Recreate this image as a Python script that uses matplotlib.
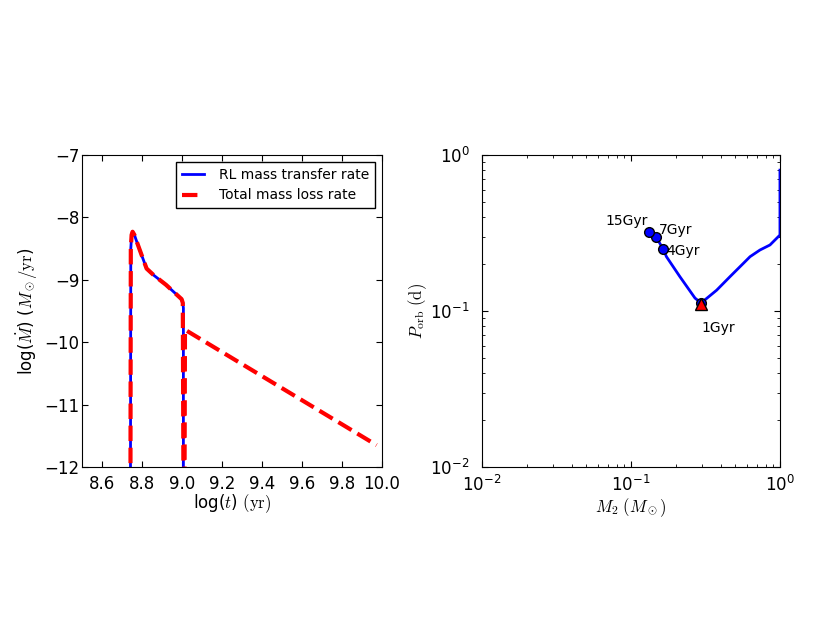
import numpy as np
import matplotlib
matplotlib.use("Agg")
import matplotlib.pyplot as plt

plt.rcParams['mathtext.fontset'] = 'cm'
plt.rcParams['font.family'] = ['DejaVu Sans']
plt.rcParams['xtick.direction'] = 'in'
plt.rcParams['ytick.direction'] = 'in'
plt.rcParams['xtick.top'] = True
plt.rcParams['ytick.right'] = True
plt.rcParams['xtick.major.size'] = 4
plt.rcParams['ytick.major.size'] = 4
plt.rcParams['xtick.minor.size'] = 2
plt.rcParams['ytick.minor.size'] = 2
plt.rcParams['xtick.major.pad'] = 6
plt.rcParams['ytick.major.pad'] = 6

# left panel: mass transfer / loss rate vs log(t)
t_rl = [8.742, 8.744, 8.748, 8.753, 8.762, 8.775, 8.80, 8.823, 8.86, 8.92, 8.998, 9.004, 9.007, 9.007]
mdot_rl = [-13.0, -8.5, -8.28, -8.23, -8.28, -8.40, -8.62, -8.82, -8.93, -9.08, -9.31, -9.37, -9.45, -13.0]

t_tot = [8.742, 8.744, 8.748, 8.753, 8.762, 8.775, 8.80, 8.823, 8.86, 8.92, 8.998, 9.004,
         9.008, 9.012, 9.015, 9.973]
mdot_tot = [-13.0, -8.5, -8.28, -8.23, -8.28, -8.40, -8.62, -8.82, -8.93, -9.08, -9.31, -9.37,
            -13.0, -13.0, -9.80, -11.65]

# right panel: orbital period vs donor mass
m2 = [1.0, 1.0, 0.857, 0.734, 0.63, 0.568, 0.462, 0.376, 0.314, 0.294, 0.269, 0.213, 0.173, 0.165, 0.147, 0.133]
porb = [0.80, 0.307, 0.265, 0.246, 0.223, 0.202, 0.166, 0.136, 0.118, 0.113, 0.121, 0.166, 0.223, 0.248, 0.30, 0.319]

age_labels = ["1Gyr", "4Gyr", "7Gyr", "15Gyr"]
age_m2 = [0.294, 0.165, 0.147, 0.133]
age_porb = [0.112, 0.248, 0.30, 0.319]

fig = plt.figure(figsize=(8.3, 6.23), dpi=100)
ax1 = fig.add_axes([0.0988, 0.2504, 0.3614, 0.5008])
ax2 = fig.add_axes([0.5807, 0.2504, 0.3590, 0.5008])

ax1.plot(t_rl, mdot_rl, color='b', lw=2, label='RL mass transfer rate')
ax1.plot(t_tot, mdot_tot, color='r', lw=3, ls='--', label='Total mass loss rate')
ax1.set_xlim(8.5, 10.0)
ax1.set_ylim(-12, -7)
ax1.set_xticks(np.arange(8.6, 10.01, 0.2))
ax1.set_yticks(np.arange(-12, -6.9, 1))
ax1.tick_params(labelsize=12)
ax1.tick_params(axis='y', pad=2)
ax1.set_xlabel(r'log($t$) $(\rm yr)$', fontsize=12, labelpad=-1)
ax1.set_ylabel(r'log($\dot{M}$) ($M_\odot/\rm{yr}$)', fontsize=12, labelpad=3)
leg = ax1.legend(loc='upper right', fontsize=10, fancybox=False, framealpha=1,
                 handlelength=1.6, handletextpad=1.1, borderaxespad=0.5)
leg.get_frame().set_edgecolor('k')

ax2.plot(m2, porb, color='b', lw=2)
ax2.plot(age_m2, age_porb, 'o', color='b', mec='k', ms=7)
ax2.plot(age_m2[0], age_porb[0] - 0.001, '^', color='r', mec='k', ms=9)
offsets = [(1, -29, 'left'), (3, -6, 'left'), (3, 3, 'left'), (-2, 7, 'right')]
for lab, x, y, off in zip(age_labels, age_m2, age_porb, offsets):
    ax2.annotate(lab, (x, y), xytext=(off[0], off[1]), textcoords='offset pixels',
                 ha=off[2], va='baseline', fontsize=10)
ax2.set_xscale('log')
ax2.set_yscale('log')
ax2.set_xlim(0.01, 1)
ax2.set_ylim(0.01, 1)
ax2.tick_params(labelsize=12)
ax2.tick_params(axis='y', which='major', pad=9)
ax2.tick_params(which='minor', labelleft=False, labelbottom=False)
ax2.set_xlabel(r'$M_2\ (M_\odot)$', fontsize=12, labelpad=0.5)
ax2.set_ylabel(r'$P_{\rm orb}\ (\rm d)$', fontsize=12, labelpad=1)

fig.savefig('out.png', dpi=100)
